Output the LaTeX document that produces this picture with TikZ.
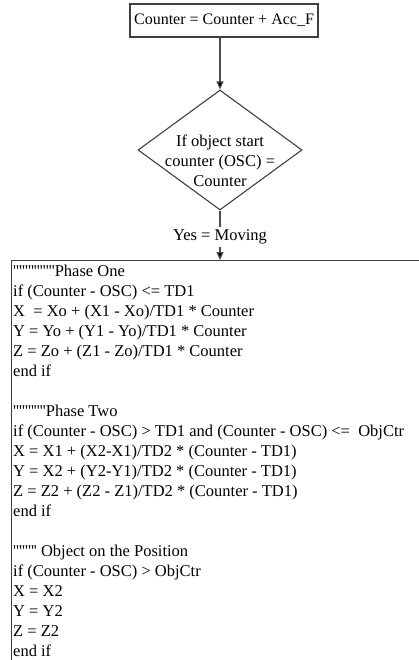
\documentclass[tikz,border=0pt]{standalone}
\usepackage{fontspec}
\setmainfont{Liberation Serif}[Ligatures=TeXOff]
\usetikzlibrary{arrows.meta,shapes.geometric}
\begin{document}
\begin{tikzpicture}[x=1pt,y=-1pt,
  txt/.style={font=\fontsize{16.5}{20}\selectfont, text=black},
  boxline/.style={draw=black!75, line width=1.1pt},
  conn/.style={draw=black!70, line width=1.1pt},
  arr/.style={conn, -{Triangle[length=8pt,width=7pt,fill=black]}}]
\useasboundingbox (0,0) rectangle (419,660);
\clip (0,0) rectangle (419,660);
\fill[white] (0,0) rectangle (419,660);
% top process box
\node[boxline, font=\fontsize{16}{20}\selectfont, minimum width=188pt, minimum height=33pt, inner sep=0pt] (top) at (224,20.5) {Counter = Counter + Acc\_F};
% decision diamond
\node[diamond, boxline, aspect=1.37, minimum width=164pt, minimum height=120pt, inner sep=0pt] (dec) at (220,150) {};
\node[txt, align=center, inner sep=0pt] (dectext) at (220,161) {If object start\\counter (OSC) =\\Counter};
% label
\node[txt, inner sep=0pt, minimum height=20pt] (lbl) at (220,237) {Yes = Moving};
% big code box (extends beyond the picture)
\node[boxline, anchor=north west, minimum width=450pt, minimum height=450pt, inner sep=0pt] (codebox) at (11,260) {};
\node[txt, anchor=north west, align=left, inner sep=0pt] (code) at (13,265) {%
''''''''''''''Phase One\\
if (Counter - OSC) <= TD1\\
X\ \ = Xo + (X1 - Xo)/TD1 * Counter\\
Y = Yo + (Y1 - Yo)/TD1 * Counter\\
Z = Zo + (Z1 - Zo)/TD1 * Counter\\
end if\\
\mbox{}\\
'''''''''''Phase Two\\
if (Counter - OSC) > TD1 and (Counter - OSC) <=\ \ ObjCtr\\
X = X1 + (X2-X1)/TD2 * (Counter - TD1)\\
Y = X2 + (Y2-Y1)/TD2 * (Counter - TD1)\\
Z = Z2 + (Z2 - Z1)/TD2 * (Counter - TD1)\\
end if\\
\mbox{}\\
'''''''' Object on the Position\\
if (Counter - OSC) > ObjCtr\\
X = X2\\
Y = Y2\\
Z = Z2\\
end if};
% connectors
\draw[arr] (dec.north |- top.south) -- (dec.north);
\draw[conn] (dec.south) -- (lbl.north);
\draw[arr] (lbl.south) -- (lbl.south |- codebox.north);
\end{tikzpicture}
\end{document}
